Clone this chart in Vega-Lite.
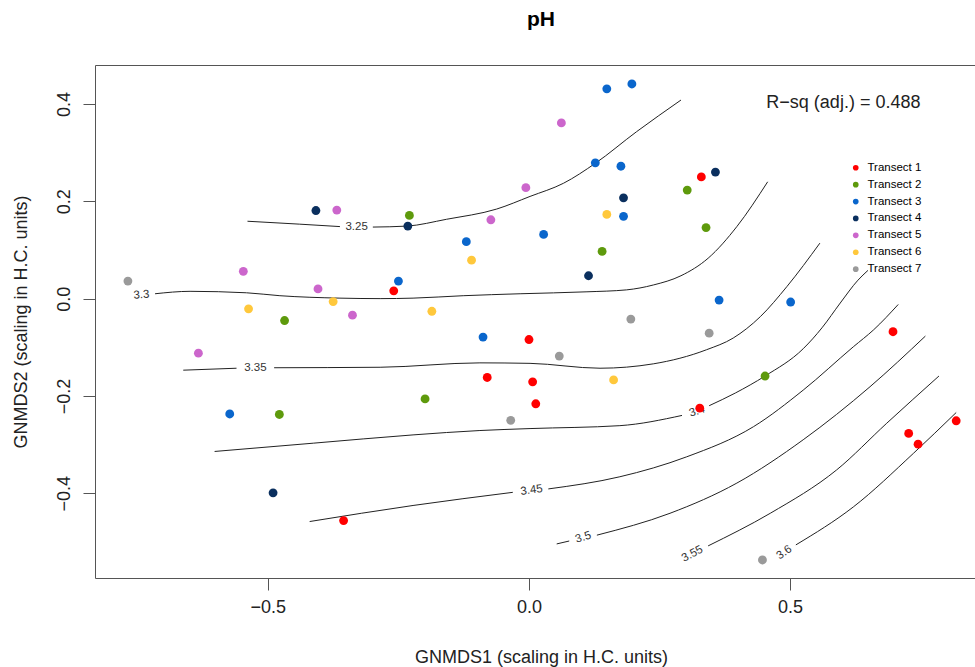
{
  "$schema": "https://vega.github.io/schema/vega-lite/v6.json",
  "width": 880,
  "height": 513,
  "autosize": {"type": "none"},
  "padding": {"left": 95, "top": 65, "right": 0, "bottom": 89},
  "background": "white",
  "title": {"text": "pH", "fontSize": 21, "fontWeight": "bold", "font": "Liberation Sans", "color": "#000", "anchor": "middle", "frame": "group", "baseline": "middle", "offset": 24, "dx": 6},
  "config": {"view": {"stroke": null}, "font": "Liberation Sans", "axis": {"grid": false}},
  "resolve": {"axis": {"x": "independent"}},
  "datasets": {
    "pts": [
      {"t": "Transect 1", "x": -0.259, "y": 0.016},
      {"t": "Transect 1", "x": 0.330, "y": 0.250},
      {"t": "Transect 1", "x": 0.000, "y": -0.084},
      {"t": "Transect 1", "x": -0.080, "y": -0.162},
      {"t": "Transect 1", "x": 0.007, "y": -0.171},
      {"t": "Transect 1", "x": 0.013, "y": -0.216},
      {"t": "Transect 1", "x": -0.355, "y": -0.456},
      {"t": "Transect 1", "x": 0.327, "y": -0.225},
      {"t": "Transect 1", "x": 0.697, "y": -0.068},
      {"t": "Transect 1", "x": 0.727, "y": -0.277},
      {"t": "Transect 1", "x": 0.745, "y": -0.299},
      {"t": "Transect 1", "x": 0.818, "y": -0.251},
      {"t": "Transect 2", "x": -0.229, "y": 0.171},
      {"t": "Transect 2", "x": 0.303, "y": 0.223},
      {"t": "Transect 2", "x": 0.339, "y": 0.146},
      {"t": "Transect 2", "x": 0.140, "y": 0.097},
      {"t": "Transect 2", "x": -0.468, "y": -0.045},
      {"t": "Transect 2", "x": -0.199, "y": -0.206},
      {"t": "Transect 2", "x": -0.478, "y": -0.238},
      {"t": "Transect 2", "x": 0.452, "y": -0.159},
      {"t": "Transect 3", "x": 0.149, "y": 0.431},
      {"t": "Transect 3", "x": 0.197, "y": 0.441},
      {"t": "Transect 3", "x": 0.127, "y": 0.279},
      {"t": "Transect 3", "x": 0.176, "y": 0.272},
      {"t": "Transect 3", "x": 0.181, "y": 0.169},
      {"t": "Transect 3", "x": 0.028, "y": 0.132},
      {"t": "Transect 3", "x": -0.120, "y": 0.117},
      {"t": "Transect 3", "x": -0.250, "y": 0.036},
      {"t": "Transect 3", "x": 0.364, "y": -0.003},
      {"t": "Transect 3", "x": 0.501, "y": -0.007},
      {"t": "Transect 3", "x": -0.088, "y": -0.079},
      {"t": "Transect 3", "x": -0.573, "y": -0.237},
      {"t": "Transect 4", "x": -0.408, "y": 0.181},
      {"t": "Transect 4", "x": -0.232, "y": 0.149},
      {"t": "Transect 4", "x": 0.357, "y": 0.260},
      {"t": "Transect 4", "x": 0.181, "y": 0.207},
      {"t": "Transect 4", "x": 0.114, "y": 0.047},
      {"t": "Transect 4", "x": -0.490, "y": -0.399},
      {"t": "Transect 5", "x": -0.368, "y": 0.182},
      {"t": "Transect 5", "x": -0.073, "y": 0.162},
      {"t": "Transect 5", "x": -0.006, "y": 0.228},
      {"t": "Transect 5", "x": 0.062, "y": 0.361},
      {"t": "Transect 5", "x": -0.547, "y": 0.056},
      {"t": "Transect 5", "x": -0.404, "y": 0.020},
      {"t": "Transect 5", "x": -0.338, "y": -0.034},
      {"t": "Transect 5", "x": -0.633, "y": -0.112},
      {"t": "Transect 6", "x": -0.110, "y": 0.079},
      {"t": "Transect 6", "x": 0.149, "y": 0.173},
      {"t": "Transect 6", "x": -0.375, "y": -0.006},
      {"t": "Transect 6", "x": -0.537, "y": -0.021},
      {"t": "Transect 6", "x": -0.186, "y": -0.026},
      {"t": "Transect 6", "x": 0.162, "y": -0.167},
      {"t": "Transect 7", "x": -0.768, "y": 0.036},
      {"t": "Transect 7", "x": 0.195, "y": -0.042},
      {"t": "Transect 7", "x": 0.058, "y": -0.118},
      {"t": "Transect 7", "x": 0.345, "y": -0.071},
      {"t": "Transect 7", "x": -0.035, "y": -0.250},
      {"t": "Transect 7", "x": 0.447, "y": -0.537}
    ],
    "lines": [
      {"seg": "3.25a", "x": -0.539, "y": 0.159},
      {"seg": "3.25a", "x": -0.439, "y": 0.153},
      {"seg": "3.25a", "x": -0.362, "y": 0.148},
      {"seg": "3.25b", "x": -0.299, "y": 0.147},
      {"seg": "3.25b", "x": -0.234, "y": 0.149},
      {"seg": "3.25b", "x": -0.158, "y": 0.163},
      {"seg": "3.25b", "x": -0.062, "y": 0.184},
      {"seg": "3.25b", "x": 0.002, "y": 0.210},
      {"seg": "3.25b", "x": 0.066, "y": 0.237},
      {"seg": "3.25b", "x": 0.127, "y": 0.278},
      {"seg": "3.25b", "x": 0.206, "y": 0.343},
      {"seg": "3.25b", "x": 0.291, "y": 0.408},
      {"seg": "3.3a", "x": -0.716, "y": 0.010},
      {"seg": "3.3a", "x": -0.649, "y": 0.015},
      {"seg": "3.3a", "x": -0.541, "y": 0.012},
      {"seg": "3.3a", "x": -0.477, "y": 0.006},
      {"seg": "3.3a", "x": -0.362, "y": 0.001},
      {"seg": "3.3a", "x": -0.285, "y": 0.000},
      {"seg": "3.3a", "x": -0.222, "y": 0.001},
      {"seg": "3.3a", "x": -0.126, "y": 0.006},
      {"seg": "3.3a", "x": -0.017, "y": 0.010},
      {"seg": "3.3a", "x": 0.111, "y": 0.014},
      {"seg": "3.3a", "x": 0.187, "y": 0.018},
      {"seg": "3.3a", "x": 0.238, "y": 0.028},
      {"seg": "3.3a", "x": 0.291, "y": 0.047},
      {"seg": "3.3a", "x": 0.343, "y": 0.083},
      {"seg": "3.3a", "x": 0.398, "y": 0.148},
      {"seg": "3.3a", "x": 0.457, "y": 0.240},
      {"seg": "3.35a", "x": -0.662, "y": -0.147},
      {"seg": "3.35a", "x": -0.560, "y": -0.143},
      {"seg": "3.35b", "x": -0.488, "y": -0.142},
      {"seg": "3.35b", "x": -0.285, "y": -0.141},
      {"seg": "3.35b", "x": -0.094, "y": -0.132},
      {"seg": "3.35b", "x": 0.002, "y": -0.133},
      {"seg": "3.35b", "x": 0.136, "y": -0.143},
      {"seg": "3.35b", "x": 0.238, "y": -0.134},
      {"seg": "3.35b", "x": 0.340, "y": -0.105},
      {"seg": "3.35b", "x": 0.391, "y": -0.081},
      {"seg": "3.35b", "x": 0.443, "y": -0.037},
      {"seg": "3.35b", "x": 0.494, "y": 0.025},
      {"seg": "3.35b", "x": 0.557, "y": 0.114},
      {"seg": "3.4a", "x": -0.602, "y": -0.314},
      {"seg": "3.4a", "x": -0.413, "y": -0.297},
      {"seg": "3.4a", "x": -0.222, "y": -0.280},
      {"seg": "3.4a", "x": -0.094, "y": -0.271},
      {"seg": "3.4a", "x": 0.002, "y": -0.267},
      {"seg": "3.4a", "x": 0.174, "y": -0.261},
      {"seg": "3.4a", "x": 0.293, "y": -0.240},
      {"seg": "3.4b", "x": 0.345, "y": -0.220},
      {"seg": "3.4b", "x": 0.395, "y": -0.194},
      {"seg": "3.4b", "x": 0.452, "y": -0.159},
      {"seg": "3.4b", "x": 0.525, "y": -0.103},
      {"seg": "3.4b", "x": 0.561, "y": -0.060},
      {"seg": "3.4b", "x": 0.596, "y": -0.009},
      {"seg": "3.4b", "x": 0.630, "y": 0.038},
      {"seg": "3.4b", "x": 0.649, "y": 0.058},
      {"seg": "3.45a", "x": -0.420, "y": -0.458},
      {"seg": "3.45a", "x": -0.222, "y": -0.425},
      {"seg": "3.45a", "x": -0.031, "y": -0.398},
      {"seg": "3.45b", "x": 0.037, "y": -0.391},
      {"seg": "3.45b", "x": 0.174, "y": -0.366},
      {"seg": "3.45b", "x": 0.302, "y": -0.325},
      {"seg": "3.45b", "x": 0.430, "y": -0.263},
      {"seg": "3.45b", "x": 0.525, "y": -0.188},
      {"seg": "3.45b", "x": 0.621, "y": -0.099},
      {"seg": "3.45b", "x": 0.660, "y": -0.064},
      {"seg": "3.45b", "x": 0.707, "y": -0.012},
      {"seg": "3.5a", "x": 0.053, "y": -0.504},
      {"seg": "3.5a", "x": 0.077, "y": -0.498},
      {"seg": "3.5b", "x": 0.130, "y": -0.486},
      {"seg": "3.5b", "x": 0.270, "y": -0.441},
      {"seg": "3.5b", "x": 0.398, "y": -0.379},
      {"seg": "3.5b", "x": 0.525, "y": -0.290},
      {"seg": "3.5b", "x": 0.653, "y": -0.181},
      {"seg": "3.5b", "x": 0.759, "y": -0.077},
      {"seg": "3.55", "x": 0.343, "y": -0.508},
      {"seg": "3.55", "x": 0.462, "y": -0.441},
      {"seg": "3.55", "x": 0.589, "y": -0.352},
      {"seg": "3.55", "x": 0.685, "y": -0.256},
      {"seg": "3.55", "x": 0.785, "y": -0.159},
      {"seg": "3.6", "x": 0.511, "y": -0.506},
      {"seg": "3.6", "x": 0.621, "y": -0.428},
      {"seg": "3.6", "x": 0.736, "y": -0.318},
      {"seg": "3.6", "x": 0.818, "y": -0.234}
    ],
    "labs": [
      {"c": "3.25", "x": -0.330, "y": 0.147},
      {"c": "3.3", "x": -0.742, "y": 0.007},
      {"c": "3.35", "x": -0.524, "y": -0.142},
      {"c": "3.4", "x": 0.322, "y": -0.232},
      {"c": "3.45", "x": 0.005, "y": -0.394},
      {"c": "3.5", "x": 0.104, "y": -0.491},
      {"c": "3.55", "x": 0.313, "y": -0.525},
      {"c": "3.6", "x": 0.489, "y": -0.522}
    ],
    "note": [
      {"x": 0.602, "y": 0.402, "txt": "R−sq (adj.) = 0.488"}
    ]
  },
  "layer": [
    {
      "mark": {"type": "rule", "color": "#c8c8c8", "strokeDash": [4, 3], "strokeWidth": 1},
      "encoding": {
        "x": {"datum": 0, "type": "quantitative", "scale": {"domain": [-0.831, 0.854], "nice": false, "zero": false},
          "axis": {"orient": "top", "labels": false, "ticks": false, "title": null, "domain": true, "domainColor": "#555", "domainWidth": 1}}
      }
    },
    {
      "mark": {"type": "rule", "color": "#c8c8c8", "strokeDash": [4, 3], "strokeWidth": 1},
      "encoding": {
        "y": {"datum": 0, "type": "quantitative", "scale": {"domain": [-0.574, 0.48], "nice": false, "zero": false},
          "axis": {"orient": "left", "values": [-0.4, -0.2, 0, 0.2, 0.4], "format": ".1f", "labelAngle": 270, "labelAlign": "center", "labelBaseline": "alphabetic", "labelPadding": 14, "tickSize": 12, "domainColor": "#555", "tickColor": "#555", "labelFontSize": 18, "labelColor": "#222", "labelFont": "Liberation Sans", "title": "GNMDS2 (scaling in H.C. units)", "titleFont": "Liberation Sans", "titleFontSize": 18, "titleFontWeight": "normal", "titleColor": "#222", "titleAngle": 270, "titleX": -69, "titleY": 256.5, "titleAlign": "center", "titleBaseline": "alphabetic"}}
      }
    },
    {
      "data": {"name": "lines"},
      "mark": {"type": "line", "color": "#222", "strokeWidth": 1, "interpolate": "monotone"},
      "encoding": {
        "x": {"field": "x", "type": "quantitative", "axis": null},
        "y": {"field": "y", "type": "quantitative"},
        "detail": {"field": "seg"}
      }
    },
    {
      "data": {"name": "labs"},
      "transform": [{"filter": {"field": "c", "oneOf": ["3.25", "3.35"]}}],
      "mark": {"type": "text", "fontSize": 11.5, "color": "#333", "align": "center", "baseline": "middle"},
      "encoding": {"x": {"field": "x", "type": "quantitative", "axis": null}, "y": {"field": "y", "type": "quantitative"}, "text": {"field": "c"}}
    },
    {
      "data": {"name": "labs"},
      "transform": [{"filter": {"field": "c", "equal": "3.3"}}],
      "mark": {"type": "text", "fontSize": 11.5, "color": "#333", "align": "center", "baseline": "middle", "angle": 356},
      "encoding": {"x": {"field": "x", "type": "quantitative", "axis": null}, "y": {"field": "y", "type": "quantitative"}, "text": {"field": "c"}}
    },
    {
      "data": {"name": "labs"},
      "transform": [{"filter": {"field": "c", "equal": "3.4"}}],
      "mark": {"type": "text", "fontSize": 11.5, "color": "#333", "align": "center", "baseline": "middle", "angle": 342},
      "encoding": {"x": {"field": "x", "type": "quantitative", "axis": null}, "y": {"field": "y", "type": "quantitative"}, "text": {"field": "c"}}
    },
    {
      "data": {"name": "labs"},
      "transform": [{"filter": {"field": "c", "equal": "3.45"}}],
      "mark": {"type": "text", "fontSize": 11.5, "color": "#333", "align": "center", "baseline": "middle", "angle": 352},
      "encoding": {"x": {"field": "x", "type": "quantitative", "axis": null}, "y": {"field": "y", "type": "quantitative"}, "text": {"field": "c"}}
    },
    {
      "data": {"name": "labs"},
      "transform": [{"filter": {"field": "c", "equal": "3.5"}}],
      "mark": {"type": "text", "fontSize": 11.5, "color": "#333", "align": "center", "baseline": "middle", "angle": 343},
      "encoding": {"x": {"field": "x", "type": "quantitative", "axis": null}, "y": {"field": "y", "type": "quantitative"}, "text": {"field": "c"}}
    },
    {
      "data": {"name": "labs"},
      "transform": [{"filter": {"field": "c", "equal": "3.55"}}],
      "mark": {"type": "text", "fontSize": 11.5, "color": "#333", "align": "center", "baseline": "middle", "angle": 332},
      "encoding": {"x": {"field": "x", "type": "quantitative", "axis": null}, "y": {"field": "y", "type": "quantitative"}, "text": {"field": "c"}}
    },
    {
      "data": {"name": "labs"},
      "transform": [{"filter": {"field": "c", "equal": "3.6"}}],
      "mark": {"type": "text", "fontSize": 11.5, "color": "#333", "align": "center", "baseline": "middle", "angle": 326},
      "encoding": {"x": {"field": "x", "type": "quantitative", "axis": null}, "y": {"field": "y", "type": "quantitative"}, "text": {"field": "c"}}
    },
    {
      "data": {"name": "note"},
      "mark": {"type": "text", "fontSize": 18, "color": "#222", "align": "center", "baseline": "middle"},
      "encoding": {"x": {"field": "x", "type": "quantitative", "axis": null}, "y": {"field": "y", "type": "quantitative"}, "text": {"field": "txt"}}
    },
    {
      "data": {"name": "pts"},
      "mark": {"type": "circle", "size": 78, "opacity": 1},
      "encoding": {
        "x": {"field": "x", "type": "quantitative",
          "axis": {"orient": "bottom", "values": [-0.5, 0, 0.5], "format": ".1f", "title": "GNMDS1 (scaling in H.C. units)", "domainColor": "#555", "tickColor": "#555", "tickSize": 12, "labelFontSize": 18, "labelColor": "#222", "labelFont": "Liberation Sans", "labelPadding": 8, "labelBaseline": "top", "labelFlush": false, "titleFont": "Liberation Sans", "titleFontSize": 18, "titleFontWeight": "normal", "titleColor": "#222", "titleX": 446, "titleY": 84, "titleBaseline": "alphabetic"}},
        "y": {"field": "y", "type": "quantitative"},
        "color": {"field": "t", "type": "nominal",
          "scale": {"domain": ["Transect 1", "Transect 2", "Transect 3", "Transect 4", "Transect 5", "Transect 6", "Transect 7"], "range": ["#ff0000", "#5e9a0c", "#0a66cc", "#0a2f5e", "#cc66cc", "#ffc83c", "#9a9a9a"]},
          "legend": {"orient": "none", "legendX": 755, "legendY": 97, "title": null, "symbolType": "circle", "symbolSize": 32, "labelFontSize": 11.5, "labelColor": "#000", "labelFont": "Liberation Sans", "rowPadding": 3.9, "padding": 0, "labelOffset": 6, "symbolStrokeWidth": 0, "symbolOpacity": 1}}
      }
    }
  ]
}
